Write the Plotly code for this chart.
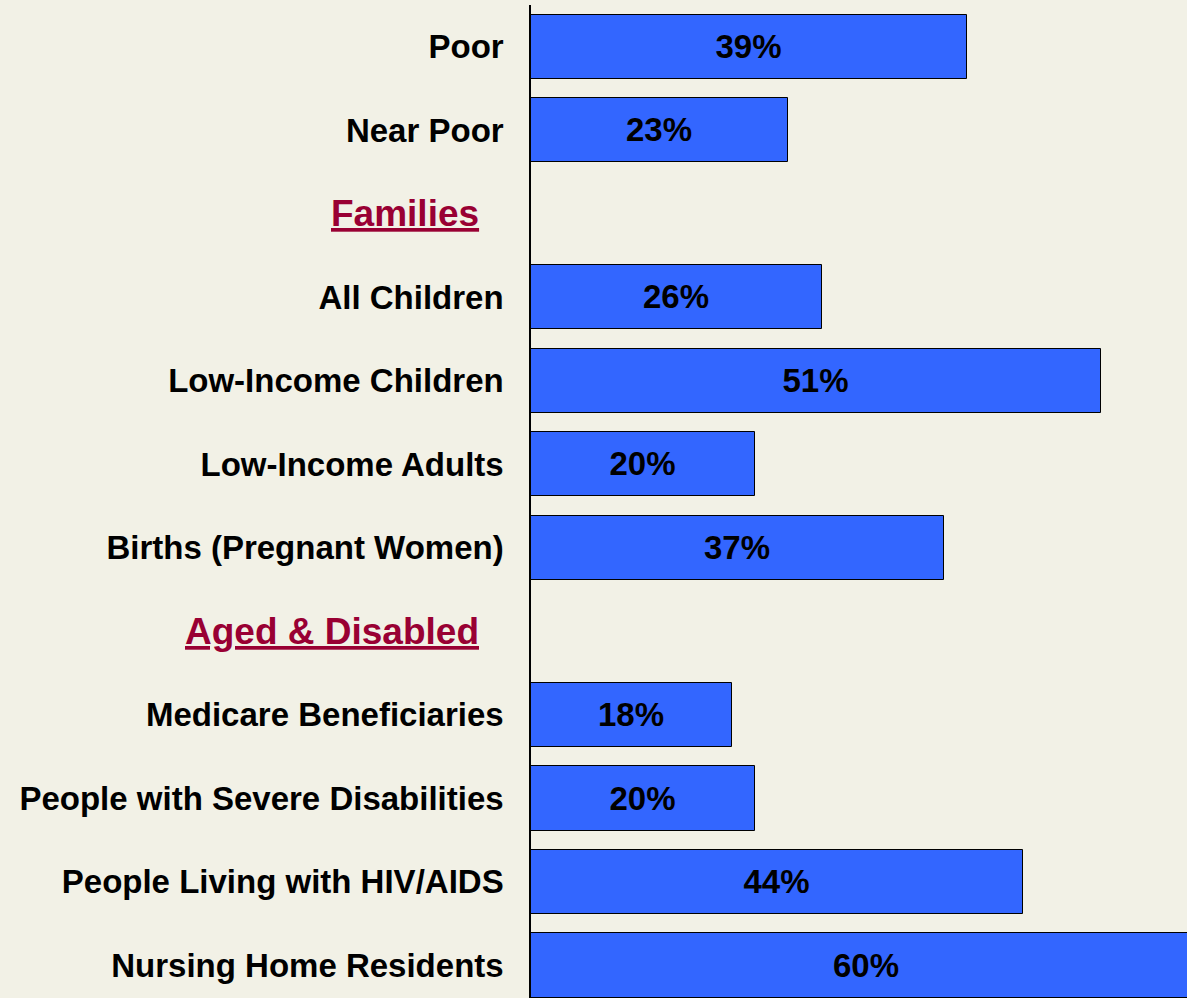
import plotly.graph_objects as go

# Data
rows = ["Poor", "Near Poor", "Families", "All Children", "Low-Income Children",
        "Low-Income Adults", "Births (Pregnant Women)", "Aged & Disabled",
        "Medicare Beneficiaries", "People with Severe Disabilities",
        "People Living with HIV/AIDS", "Nursing Home Residents"]
values = [39, 23, None, 26, 51, 20, 37, None, 18, 20, 44, 60]
headers = ["Families", "Aged & Disabled"]

BG = "#F2F1E6"
BAR = "#3366FF"
HEAD = "#990033"
FONT = "Liberation Sans"

ypos = list(range(len(rows)))
bar_y = [y for y, v in zip(ypos, values) if v is not None]
bar_x = [v for v in values if v is not None]
tick_vals = [y for y, r in zip(ypos, rows) if r not in headers]
tick_text = [r for r in rows if r not in headers]

fig = go.Figure()
fig.add_trace(go.Bar(
    x=bar_x, y=bar_y, orientation="h", width=0.77,
    marker=dict(color=BAR, line=dict(color="black", width=1)),
    text=[f"{v}%" for v in bar_x], textposition="inside",
    insidetextanchor="middle", constraintext="none",
    textfont=dict(family=FONT, size=33, color="black", weight="bold"),
    cliponaxis=True, hoverinfo="skip",
))

for h in headers:
    fig.add_annotation(
        x=-0.076, xref="paper", y=rows.index(h), yref="y",
        text=f"<u>{h}</u>", showarrow=False, xanchor="right", yanchor="middle",
        font=dict(family=FONT, size=37, color=HEAD, weight="bold"),
    )

fig.update_layout(
    width=1187, height=998,
    paper_bgcolor=BG, plot_bgcolor=BG,
    margin=dict(l=531, r=0, t=5, b=0),
    showlegend=False, bargap=0,
)
fig.update_xaxes(range=[0, 58.7], showgrid=False, zeroline=False,
                 showticklabels=False, ticks="", showline=False)
fig.update_yaxes(range=[11.39, -0.5], tickvals=tick_vals, ticktext=tick_text,
                 showgrid=False, zeroline=False, ticks="",
                 showline=True, linecolor="black", linewidth=1.5,
                 ticklabelstandoff=19,
                 tickfont=dict(family=FONT, size=33, color="black", weight="bold"))

fig.write_html("out.html")
